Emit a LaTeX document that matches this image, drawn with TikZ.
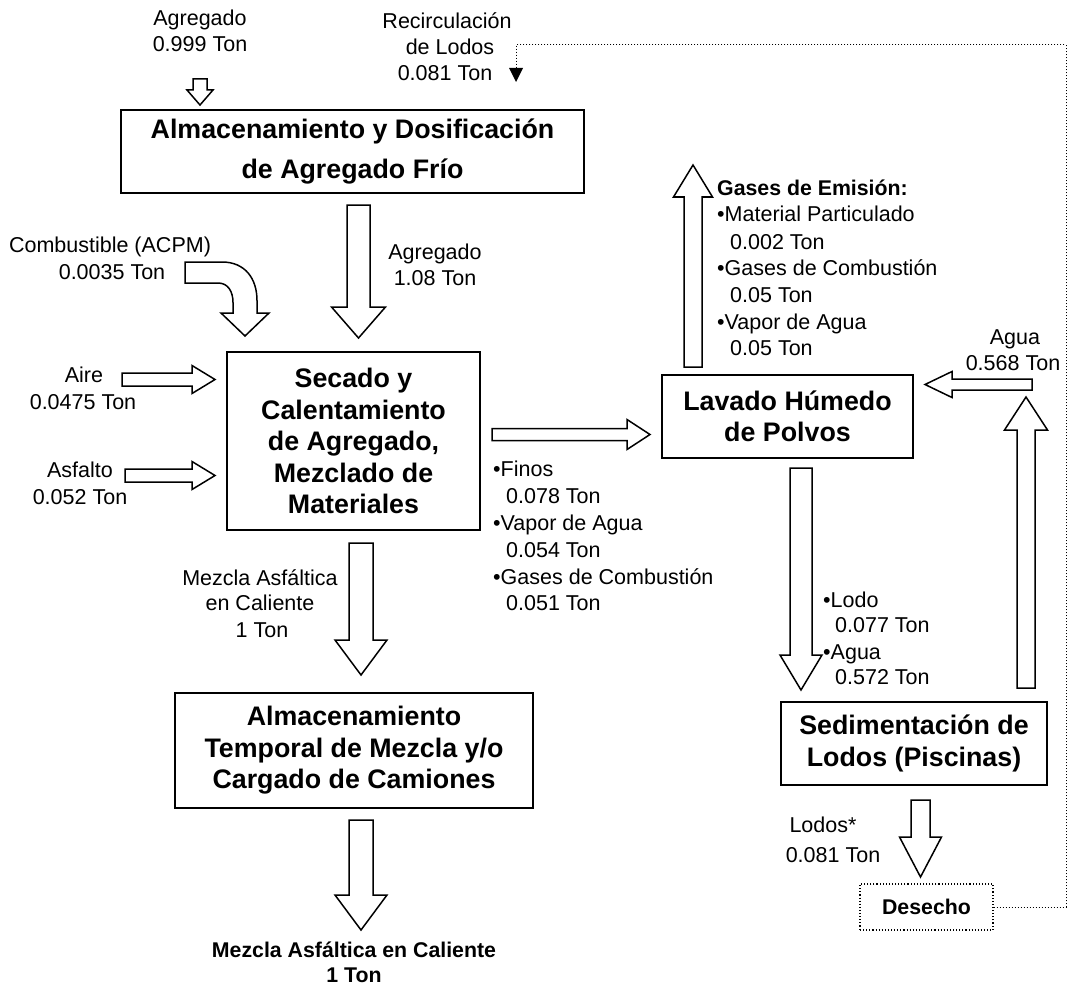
\documentclass[tikz,border=0pt]{standalone}
\usepackage{fontspec}
\setmainfont{Liberation Sans}
\usetikzlibrary{calc}
\newcommand\bxfont{\fontsize{26.8}{31.5}\selectfont\bfseries}
\newcommand\lbfont{\fontsize{21.5}{26}\selectfont}
\newcommand\lbbfont{\fontsize{21.3}{26}\selectfont\bfseries}
\tikzset{
  box/.style={draw, line width=1.9pt, align=center, font=\bxfont, inner sep=0pt},
  lbl/.style={font=\lbfont, inner sep=0pt, anchor=base},
  lbw/.style={font=\lbfont, inner sep=0pt, anchor=base west},
  lbb/.style={font=\lbbfont, inner sep=0pt, anchor=base},
  barrow/.style={draw, line width=1.5pt, fill=white, line join=miter},
  dotline/.style={dotted, line width=1pt},
}
% vertical block arrow: from #1 to tip #2, shaft half width #3, head half width #4, head length #5
\newcommand\varr[5]{%
  \draw[barrow] let \p1=(#1), \p2=(#2), \n1={ifthenelse(\y2>\y1,1,-1)} in
   ({\x1-#3pt},\y1) -- ({\x1-#3pt},{\y2-(\n1)*#5pt}) -- ({\x1-#4pt},{\y2-(\n1)*#5pt})
   -- (\x1,\y2) -- ({\x1+#4pt},{\y2-(\n1)*#5pt}) -- ({\x1+#3pt},{\y2-(\n1)*#5pt})
   -- ({\x1+#3pt},\y1) -- cycle;}
% horizontal block arrow
\newcommand\harr[5]{%
  \draw[barrow] let \p1=(#1), \p2=(#2), \n1={ifthenelse(\x2>\x1,1,-1)} in
   (\x1,{\y1-#3pt}) -- ({\x2-(\n1)*#5pt},{\y1-#3pt}) -- ({\x2-(\n1)*#5pt},{\y1-#4pt})
   -- (\x2,\y1) -- ({\x2-(\n1)*#5pt},{\y1+#4pt}) -- ({\x2-(\n1)*#5pt},{\y1+#3pt})
   -- (\x1,{\y1+#3pt}) -- cycle;}
\begin{document}
\begin{tikzpicture}[x=1pt,y=-1pt]
\path[use as bounding box] (0,0) rectangle (1070,987);

% ---------- boxes ----------
\node[box, minimum width=463, minimum height=83] (box1) at (352.5,151.5)
  {Almacenamiento y Dosificación\\[8pt]de Agregado Frío};
\node[box, minimum width=253, minimum height=178] (box2) at (353.5,441)
  {Secado y\\Calentamiento\\de Agregado,\\Mezclado de\\Materiales};
\node[box, minimum width=358, minimum height=115] (box3) at (354,750.5)
  {Almacenamiento\\Temporal de Mezcla y/o\\Cargado de Camiones};
\node[box, minimum width=251, minimum height=83] (lav) at (787.5,416.5)
  {Lavado Húmedo\\de Polvos};
\node[box, minimum width=266, minimum height=83] (sed) at (914,743.5)
  {Sedimentación de\\Lodos (Piscinas)};
\node[draw, dotted, line width=1.1pt, minimum width=133, minimum height=46, inner sep=0pt,
  font=\lbbfont] (des) at (926.5,907) {Desecho};

% ---------- top inputs ----------
\node[lbl] (agr1) at (200,25.5) {Agregado};
\node[lbl] (agr2) at (200,51.5) {0.999 Ton};
\coordinate (a0s) at (200,79);
\coordinate (a0e) at (200,105);
\varr{a0s}{a0e}{7}{13}{15}

\node[lbl] (rec1) at (447,28.5) {Recirculación};
\node[lbl] (rec2) at (450,54.5) {de Lodos};
\node[lbl] (rec3) at (445,80.5) {0.081 Ton};

% ---------- box1 -> box2 ----------
\node[lbl] (ag1) at (435,259.5) {Agregado};
\node[lbl] (ag2) at (435,285.5) {1.08 Ton};
\coordinate (m1s) at (358.5,205);
\coordinate (m1e) at (358.5,338);
\varr{m1s}{m1e}{11.5}{27}{31}

% ---------- combustible ----------
\node[lbl] (comb1) at (110,252.5) {Combustible (ACPM)};
\node[lbl] (comb2) at (112,279.5) {0.0035 Ton};
\coordinate (cs) at (185,272.5);
\draw[barrow, shift={(cs)}]
  (0,-10.5) -- (37,-10.5) .. controls (60,-10.5) and (72,6) .. (72,28)
  -- (72,40.5) -- (84,40.5) -- (60,63.5) -- (36,40.5) -- (48,40.5) -- (48,30)
  .. controls (48,19) and (43,10.5) .. (33,10.5) -- (0,10.5) -- cycle;

% ---------- aire / asfalto ----------
\node[lbl] (aire1) at (84,382.5) {Aire};
\node[lbl] (aire2) at (83,409.5) {0.0475 Ton};
\coordinate (ai1) at (122,379.5);
\coordinate (ai2) at (215,379.5);
\harr{ai1}{ai2}{6.5}{14}{23}

\node[lbl] (asf1) at (80,477.5) {Asfalto};
\node[lbl] (asf2) at (80,504.5) {0.052 Ton};
\coordinate (as1) at (125,475.5);
\coordinate (as2) at (215,475.5);
\harr{as1}{as2}{6.5}{14}{23}

% ---------- box2 -> lavado ----------
\coordinate (lv1) at (492,434.5);
\coordinate (lv2) at (650,434.5);
\harr{lv1}{lv2}{6}{15}{23}
\node[lbw] (f1) at (493,476.5) {•Finos};
\node[lbw] (f2) at (506,503.5) {0.078 Ton};
\node[lbw] (f3) at (493,530.5) {•Vapor de Agua};
\node[lbw] (f4) at (506,557.5) {0.054 Ton};
\node[lbw] (f5) at (493,584.5) {•Gases de Combustión};
\node[lbw] (f6) at (506,610.5) {0.051 Ton};

% ---------- box2 -> box3 ----------
\node[lbl] (mz1) at (260,585.5) {Mezcla Asfáltica};
\node[lbl] (mz2) at (260,610.5) {en Caliente};
\node[lbl] (mz3) at (262,637.5) {1 Ton};
\coordinate (m2s) at (361,543);
\coordinate (m2e) at (361,675);
\varr{m2s}{m2e}{12}{26}{35}

% ---------- box3 -> output ----------
\coordinate (m3s) at (361,820);
\coordinate (m3e) at (361,930);
\varr{m3s}{m3e}{12}{26}{35}
\node[lbb] (out1) at (354,957.5) {Mezcla Asfáltica en Caliente};
\node[lbb] (out2) at (354,982.5) {1 Ton};

% ---------- gases de emision ----------
\coordinate (g1) at (693,367);
\coordinate (g2) at (693,165);
\varr{g1}{g2}{9}{19.5}{32}
\node[lbb, anchor=base west] (ge0) at (717,195.5) {Gases de Emisión:};
\node[lbw] (ge1) at (717,221.5) {•Material Particulado};
\node[lbw] (ge2) at (730,249.5) {0.002 Ton};
\node[lbw] (ge3) at (717,275.5) {•Gases de Combustión};
\node[lbw] (ge4) at (730,302.5) {0.05 Ton};
\node[lbw] (ge5) at (717,329.5) {•Vapor de Agua};
\node[lbw] (ge6) at (730,355.5) {0.05 Ton};

% ---------- agua ----------
\node[lbl] (agu1) at (1015,344.5) {Agua};
\node[lbl] (agu2) at (1013,370.5) {0.568 Ton};
\coordinate (w1) at (1032,384.5);
\coordinate (w2) at (925,384.5);
\harr{w1}{w2}{5.5}{13}{27}
\coordinate (u1) at (1026,688);
\coordinate (u2) at (1026,397);
\varr{u1}{u2}{9}{21.5}{33}

% ---------- lavado -> sedimentacion ----------
\coordinate (d1) at (801,468);
\coordinate (d2) at (801,690);
\varr{d1}{d2}{11}{21}{35}
\node[lbw] (lo1) at (823,607.5) {•Lodo};
\node[lbw] (lo2) at (835,632.5) {0.077 Ton};
\node[lbw] (lo3) at (823,659.5) {•Agua};
\node[lbw] (lo4) at (835,684.5) {0.572 Ton};

% ---------- sedimentacion -> desecho ----------
\coordinate (l1) at (920.5,800);
\coordinate (l2) at (920.5,877);
\varr{l1}{l2}{9.5}{21}{40}
\node[lbl] (ld1) at (823,832.5) {Lodos*};
\node[lbl] (ld2) at (833,862.5) {0.081 Ton};

% ---------- recirculacion (dotted) ----------
\coordinate (rc1) at (1066,907);
\coordinate (rc2) at (1066,45);
\coordinate (rc3) at (516,45);
\coordinate (rc4) at (516,68);
\draw[dotline] (des.east) -- (rc1) -- (rc2) -- (rc3) -- (rc4);
\fill ($(rc4)+(-7,0)$) -- ($(rc4)+(7,0)$) -- ($(rc4)+(0,14)$) -- cycle;
\end{tikzpicture}
\end{document}
